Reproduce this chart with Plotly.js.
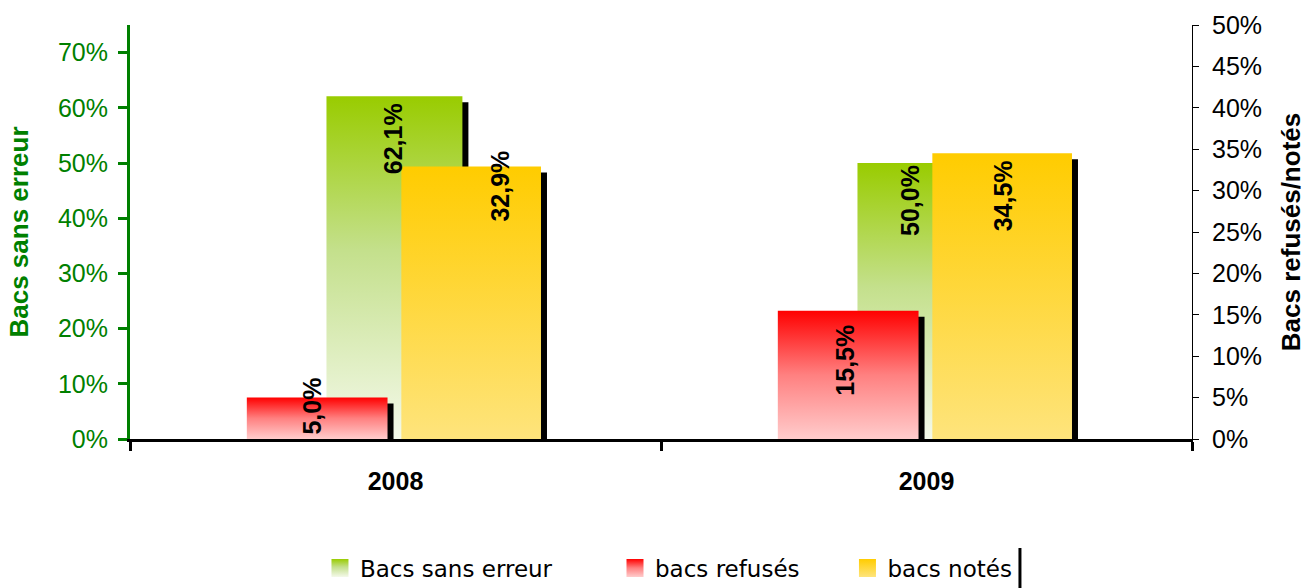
<!DOCTYPE html>
<html><head><meta charset="utf-8">
<script src="https://cdn.plot.ly/plotly-3.0.1.min.js"></script>
<style>html,body{margin:0;padding:0;background:#fff}#chart{width:1306px;height:588px}</style>
</head><body><div id="chart"></div>
<script>
// ---- data ----
const years = ['2008', '2009'];
const sansErreur = [0.621, 0.500];
const refuses = [0.050, 0.155];
const notes = [0.329, 0.345];
const seriesNames = ['Bacs sans erreur', 'bacs refusés', 'bacs notés'];
const leftTicks = [0, 0.1, 0.2, 0.3, 0.4, 0.5, 0.6, 0.7];
const rightTicks = [0, 0.05, 0.1, 0.15, 0.2, 0.25, 0.3, 0.35, 0.4, 0.45, 0.5];
const leftTitle = 'Bacs sans erreur';
const rightTitle = 'Bacs refusés/notés';

// ---- style ----
const GREEN = '#008000';
const ARIAL = 'Liberation Sans, Arial, sans-serif';
const TAHOMA = 'DejaVu Sans, Verdana, sans-serif';
// label pixel nudges [series][year] : [xshift, yshift]
const labelShift = [
  [[-3, -5], [-17, 0]],
  [[-83, 22], [-81, -12]],
  [[105, 18], [76, -5]]
];
const legendIds = ['legend', 'legend2', 'legend3'];
const legendX = [0.2450, 0.4709, 0.6489];

const fmt = v => (v * 100).toFixed(1).replace('.', ',') + '%';

const seriesVals = [sansErreur, refuses, notes];
const seriesAxis = ['y', 'y2', 'y2'];
const seriesOffset = [-0.13, -0.28, 0.011];
const seriesWidth = [0.256, 0.265, 0.263];
const seriesColor = ['#c8e296', '#ff8c8c', '#ffd84a'];

const data = seriesVals.map((vals, i) => ({
  type: 'bar', name: seriesNames[i], x: years, y: vals,
  xaxis: 'x', yaxis: seriesAxis[i], legend: legendIds[i],
  offset: seriesOffset[i], width: seriesWidth[i],
  marker: {color: seriesColor[i], line: {width: 0}},
  hoverinfo: 'skip'
}));

const annotations = [];
seriesVals.forEach((vals, i) => {
  vals.forEach((v, j) => {
    annotations.push({
      x: j, y: v, xref: 'x', yref: seriesAxis[i],
      text: fmt(v), textangle: -90, showarrow: false,
      xanchor: 'center', yanchor: 'top',
      xshift: labelShift[i][j][0], yshift: labelShift[i][j][1],
      font: {family: ARIAL, size: 25, weight: 'bold', color: '#000'}
    });
  });
});

const legendBase = {
  orientation: 'h', xref: 'container', yref: 'container',
  xanchor: 'left', y: 0.034, yanchor: 'middle',
  font: {family: TAHOMA, size: 23, color: '#000'},
  bgcolor: 'rgba(0,0,0,0)', itemclick: false, itemdoubleclick: false
};

const layout = {
  width: 1306, height: 588,
  margin: {l: 130, r: 114, t: 25, b: 149},
  paper_bgcolor: '#fff', plot_bgcolor: 'rgba(0,0,0,0)',
  separators: ', ',
  showlegend: true,
  barmode: 'overlay',
  xaxis: {
    type: 'category', range: [-0.5, 1.5], tickson: 'boundaries',
    ticks: 'outside', ticklen: 9, tickwidth: 3, tickcolor: '#000',
    showline: true, linecolor: '#000', linewidth: 3,
    showgrid: false, zeroline: false, automargin: false,
    tickfont: {family: ARIAL, size: 25, weight: 'bold', color: '#000'},
    ticklabelstandoff: 18, fixedrange: true
  },
  yaxis: {
    range: [0, 0.75], tickvals: leftTicks, tickformat: '.0%',
    ticks: 'outside', ticklen: 9, tickwidth: 3, tickcolor: GREEN,
    showline: true, linecolor: GREEN, linewidth: 3,
    showgrid: false, zeroline: false, automargin: false,
    tickfont: {family: ARIAL, size: 25, color: GREEN},
    ticklabelstandoff: 5,
    title: {text: leftTitle, standoff: 22, font: {family: ARIAL, size: 26, weight: 'bold', color: GREEN}},
    fixedrange: true
  },
  yaxis2: {
    overlaying: 'y', side: 'right', anchor: 'x',
    range: [0, 0.5], tickvals: rightTicks, tickformat: '.0%',
    ticks: 'outside', ticklen: 6, tickwidth: 1, tickcolor: '#000',
    showline: true, linecolor: '#000', linewidth: 1,
    showgrid: false, zeroline: false, automargin: false,
    tickfont: {family: ARIAL, size: 25, color: '#000'},
    ticklabelstandoff: 8,
    title: {text: rightTitle, standoff: 24, font: {family: ARIAL, size: 26, weight: 'bold', color: '#000'}},
    fixedrange: true
  },
  yaxis3: {
    overlaying: 'y', side: 'right', anchor: 'x',
    range: [0, 0.5], tickvals: rightTicks,
    ticks: 'inside', ticklen: 6, tickwidth: 1, tickcolor: '#000',
    showticklabels: false, showline: false, showgrid: false, zeroline: false,
    automargin: false, fixedrange: true
  },
  legend: Object.assign({}, legendBase, {x: legendX[0]}),
  legend2: Object.assign({}, legendBase, {x: legendX[1]}),
  legend3: Object.assign({}, legendBase, {x: legendX[2]}),
  annotations: annotations,
  shapes: [{
    type: 'line', xref: 'paper', yref: 'paper',
    x0: 0.838, x1: 0.838, y0: -0.2633, y1: -0.36,
    line: {color: '#000', width: 3}
  }]
};

Plotly.newPlot('chart', data, layout, {staticPlot: true, displayModeBar: false}).then(gd => {
  const svg = gd.querySelector('.main-svg');
  const defs = svg.querySelector('defs');
  const NS = 'http://www.w3.org/2000/svg';
  const grads = [
    ['gradG', [[0, 'rgb(153,204,0)'], [0.45, 'rgb(196,224,140)'], [1, 'rgb(244,249,234)']]],
    ['gradR', [[0, 'rgb(255,0,0)'], [0.5, 'rgb(255,128,128)'], [1, 'rgb(255,204,204)']]],
    ['gradY', [[0, 'rgb(255,204,0)'], [1, 'rgb(254,228,124)']]]
  ];
  grads.forEach(([id, stops]) => {
    const lg = document.createElementNS(NS, 'linearGradient');
    lg.setAttribute('id', id);
    lg.setAttribute('x1', '0'); lg.setAttribute('y1', '0');
    lg.setAttribute('x2', '0'); lg.setAttribute('y2', '1');
    stops.forEach(([o, c]) => {
      const s = document.createElementNS(NS, 'stop');
      s.setAttribute('offset', o);
      s.setAttribute('stop-color', c);
      lg.appendChild(s);
    });
    defs.appendChild(lg);
  });
  const gid = ['gradG', 'gradR', 'gradY'];
  gd.querySelectorAll('.barlayer .trace').forEach(tg => {
    const d = tg.__data__;
    const idx = d && d[0] && d[0].trace ? d[0].trace.index : 0;
    tg.querySelectorAll('.point path').forEach(p => {
      const sh = p.cloneNode(true);
      sh.style.fill = '#000';
      sh.setAttribute('transform', 'translate(6,6)');
      p.parentNode.insertBefore(sh, p);
      p.style.fill = 'url(#' + gid[idx] + ')';
    });
  });
  gd.querySelectorAll('.legendpoints path').forEach(p => {
    let el = p.parentNode;
    while (el && !(el.classList && el.classList.contains('traces'))) el = el.parentNode;
    const d = el ? el.__data__ : null;
    const idx = d && d[0] && d[0].trace ? d[0].trace.index : 0;
    p.setAttribute('d', 'M8.5,9H-8.5V-9H8.5Z');
    p.style.fill = 'url(#' + gid[idx] + ')';
    p.style.stroke = 'none';
  });
});
</script>
</body></html>
